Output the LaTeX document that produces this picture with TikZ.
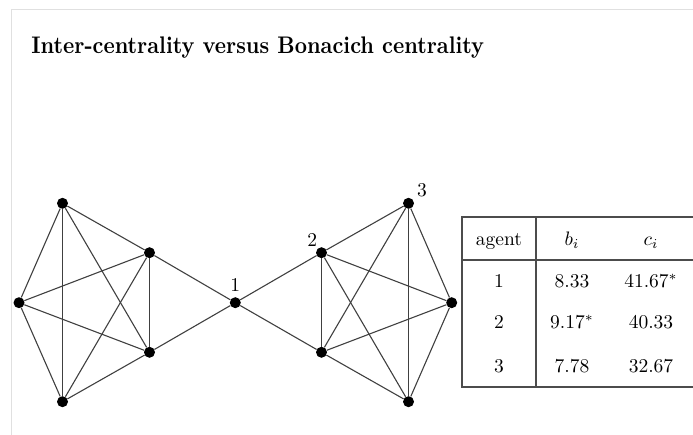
\documentclass[tikz,border=0pt]{standalone}
\usepackage{amsmath}
\usepackage{tikz}
\usetikzlibrary{positioning}
\tikzset{
  vertex/.style={circle, fill=black, inner sep=0pt, minimum size=11pt},
  link/.style={draw=black!75, line width=1.1pt},
  lbl/.style={inner sep=0pt, scale=1.95},
  cell/.style={inner sep=0pt, anchor=base, scale=1.95},
  rule/.style={draw=black!70, line width=1.3pt},
  slide/.style={draw=black!12, line width=1pt},
}

\begin{document}
\begin{tikzpicture}[x=1pt, y=-1pt]
\useasboundingbox (0,0) rectangle (693,435);

% slide frame
\draw[slide] (11,435) -- (11,10) -- (693,10);

\node[anchor=base west, inner sep=0pt, xscale=2.13, yscale=2.4, font=\bfseries] (title) at (31,54) {Inter-centrality versus Bonacich centrality};

\begin{scope}[every node/.style={vertex}]
  \node (l1) at (62.5,203.3) {};
  \node (l2) at (149.5,252.7) {};
  \node (l3) at (19,302.7) {};
  \node (l4) at (149.5,352.3) {};
  \node (l5) at (62.5,401.7) {};
  \node (m) at (235.3,302.7) {};
  \node (r1) at (321.5,252.7) {};
  \node (r2) at (408.5,203.3) {};
  \node (r3) at (451.7,302.7) {};
  \node (r4) at (321.5,352.3) {};
  \node (r5) at (408.5,401.7) {};
\end{scope}

\node[lbl, above=5pt of m] (lab1) {1};
\node[lbl, above left=2pt and 0pt of r1] (lab2) {2};
\node[lbl, right=2.5pt of r2, yshift=6.5pt] (lab3) {3};

% left clique
\path[link] (l1) edge (l2);
\path[link] (l1) edge (l3);
\path[link] (l1) edge (l4);
\path[link] (l1) edge (l5);
\path[link] (l2) edge (l3);
\path[link] (l2) edge (l4);
\path[link] (l2) edge (l5);
\path[link] (l3) edge (l4);
\path[link] (l3) edge (l5);
\path[link] (l4) edge (l5);

% bridge
\path[link] (l2) edge (m);
\path[link] (l4) edge (m);
\path[link] (m) edge (r1);
\path[link] (m) edge (r4);

% right clique
\path[link] (r1) edge (r2);
\path[link] (r1) edge (r3);
\path[link] (r1) edge (r4);
\path[link] (r1) edge (r5);
\path[link] (r2) edge (r3);
\path[link] (r2) edge (r4);
\path[link] (r2) edge (r5);
\path[link] (r3) edge (r4);
\path[link] (r3) edge (r5);
\path[link] (r4) edge (r5);

% table
\draw[rule] (693,217) -- (462,217) -- (462,387) -- (693,387);
\draw[rule] (462,260) -- (693,260);
\draw[rule] (536,217) -- (536,387);

\node[cell] (hagent) at (499,246) {agent};
\node[cell] (hb) at (572,246) {$b_i$};
\node[cell] (hc) at (651,246) {$c_i$};

\node[cell] (a1) at (499,288) {1};
\node[cell] (b1) at (572,288) {8.33};
\node[cell] (c1) at (651,288) {$41.67^*$};

\node[cell] (a2) at (499,329) {2};
\node[cell] (b2) at (572,329) {$9.17^*$};
\node[cell] (c2) at (651,329) {40.33};

\node[cell] (a3) at (499,372) {3};
\node[cell] (b3) at (572,372) {7.78};
\node[cell] (c3) at (651,372) {32.67};

\end{tikzpicture}
\end{document}
